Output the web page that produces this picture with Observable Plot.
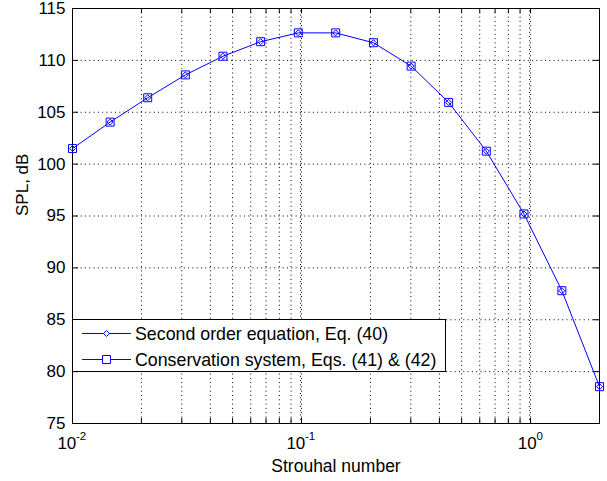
<!DOCTYPE html>
<html><head><meta charset="utf-8">
<script src="https://cdn.jsdelivr.net/npm/d3@7"></script>
<script src="https://cdn.jsdelivr.net/npm/@observablehq/plot@0.6"></script>
<style>
body{margin:0;background:#fff;}
#wrap{position:relative;width:607px;height:481px;font-family:"Liberation Sans",Arial,sans-serif;}
#legend{position:absolute;left:72px;top:319px;}
</style></head><body><div id="wrap"></div>
<script>
// ---- data ----
const strouhal = [0.01, 0.0146, 0.0213, 0.0311, 0.0454, 0.0663, 0.0968, 0.141, 0.206, 0.301, 0.439, 0.641, 0.936, 1.37, 2.0];
const splSecondOrder   = [101.5, 104.05, 106.4, 108.6, 110.4, 111.8, 112.65, 112.65, 111.7, 109.45, 105.95, 101.25, 95.2, 87.8, 78.55];
const splConservation  = [101.5, 104.05, 106.4, 108.6, 110.4, 111.8, 112.65, 112.65, 111.7, 109.45, 105.95, 101.25, 95.2, 87.8, 78.55];
const seriesNames = ["Second order equation, Eq. (40)", "Conservation system, Eqs. (41) & (42)"];
const yTicks = [75, 80, 85, 90, 95, 100, 105, 110, 115];
const xMajor = [0.01, 0.1, 1];
const xExponents = ["-2", "-1", "0"];
const xMinor = [0.02, 0.03, 0.04, 0.05, 0.06, 0.07, 0.08, 0.09, 0.2, 0.3, 0.4, 0.5, 0.6, 0.7, 0.8, 0.9, 2];
const xDomain = [0.01, 2];
const yDomain = [75, 115];
const xLabel = "Strouhal number";
const yLabel = "SPL, dB";

// ---- layout ----
const W = 607, H = 481, mL = 72, mR = 8, mT = 8, mB = 58;
const plotW = W - mL - mR, plotH = H - mT - mB;
const blue = "#0000ff";
const dots = "1,3.3";

const rowsA = strouhal.map((s, i) => ({s, spl: splSecondOrder[i]}));
const rowsB = strouhal.map((s, i) => ({s, spl: splConservation[i]}));
const xTicksAll = xMajor.concat(xMinor);

const labelMarks = [];
xMajor.forEach((v, i) => {
  const e = xExponents[i];
  const off = e.length > 1 ? 3.8 : 6.2;
  labelMarks.push(Plot.text([v], {x: d => d, text: () => "10", frameAnchor: "bottom", lineAnchor: "bottom", textAnchor: "end", dx: off, dy: 25.3, fontSize: 17, fill: "#000"}));
  labelMarks.push(Plot.text([v], {x: d => d, text: () => e, frameAnchor: "bottom", lineAnchor: "bottom", textAnchor: "start", dx: off - 0.3, dy: 16.5, fontSize: 11.5, fill: "#000"}));
});

const chart = Plot.plot({
  width: W, height: H,
  marginLeft: mL, marginRight: mR, marginTop: mT, marginBottom: mB,
  style: {fontFamily: "'Liberation Sans', Arial, sans-serif", fontSize: "17px", color: "#000", background: "#fff"},
  x: {type: "log", domain: xDomain, axis: null},
  y: {domain: yDomain, axis: null},
  marks: [
    Plot.ruleY(yTicks.slice(1, -1), {stroke: "#000", strokeDasharray: dots}),
    Plot.ruleX(xTicksAll.filter(v => v > xDomain[0] && v < xDomain[1]), {stroke: "#000", strokeDasharray: dots}),
    Plot.ruleX(xMajor.filter(v => v > xDomain[0]), {stroke: "#000", strokeDasharray: dots, strokeDashoffset: 2, dx: -1}),
    Plot.tickY(yTicks, {stroke: "#000", insetRight: plotW - 6}),
    Plot.tickY(yTicks, {stroke: "#000", insetLeft: plotW - 6}),
    Plot.tickX(xTicksAll, {stroke: "#000", insetTop: plotH - 5}),
    Plot.tickX(xTicksAll, {stroke: "#000", insetBottom: plotH - 5}),
    Plot.frame({stroke: "#000"}),
    Plot.axisY(yTicks, {tickSize: 0, tickPadding: 7, fontSize: 17, label: null, fill: "#000"}),
    ...labelMarks,
    Plot.text([yLabel], {frameAnchor: "left", rotate: -90, dx: -50, fontSize: 17, fill: "#000"}),
    Plot.text([xLabel], {frameAnchor: "bottom", lineAnchor: "bottom", dy: 48, fontSize: 17.5, fill: "#000"}),
    Plot.line(rowsB, {x: "s", y: "spl", stroke: blue, strokeWidth: 1}),
    Plot.dot(rowsA, {x: "s", y: "spl", symbol: "diamond2", r: 2.7, stroke: blue, fill: "none", strokeWidth: 1}),
    Plot.dot(rowsB, {x: "s", y: "spl", symbol: "square", r: 4.5, stroke: blue, fill: "none", strokeWidth: 1})
  ]
});
const wrap = document.getElementById("wrap");
wrap.appendChild(chart);

// ---- legend (inside plot, lower left) ----
const lw = 374, lh = 53;
const leg = d3.select(wrap).append("svg").attr("id", "legend").attr("width", lw).attr("height", lh);
leg.append("rect").attr("x", 0.5).attr("y", 0.5).attr("width", lw - 1).attr("height", lh - 1).attr("fill", "#fff").attr("stroke", "#000");
const rowY = [14.5, 40.5];
const symbols = [d3.symbolDiamond2, d3.symbolSquare];
const symSizes = [Math.PI * 2.7 * 2.7, Math.PI * 4.5 * 4.5];
seriesNames.forEach((name, i) => {
  const g = leg.append("g").attr("transform", `translate(0,${rowY[i]})`);
  g.append("line").attr("x1", 10).attr("x2", 59).attr("y1", 0).attr("y2", 0).attr("stroke", blue);
  g.append("path").attr("transform", "translate(34.5,0)").attr("d", d3.symbol(symbols[i], symSizes[i])()).attr("fill", "#fff").attr("stroke", blue);
  g.append("text").attr("x", 63).attr("y", 6.3).attr("font-size", 17.8).attr("fill", "#000")
    .attr("font-family", "'Liberation Sans', Arial, sans-serif").text(name);
});
</script>
</body></html>
